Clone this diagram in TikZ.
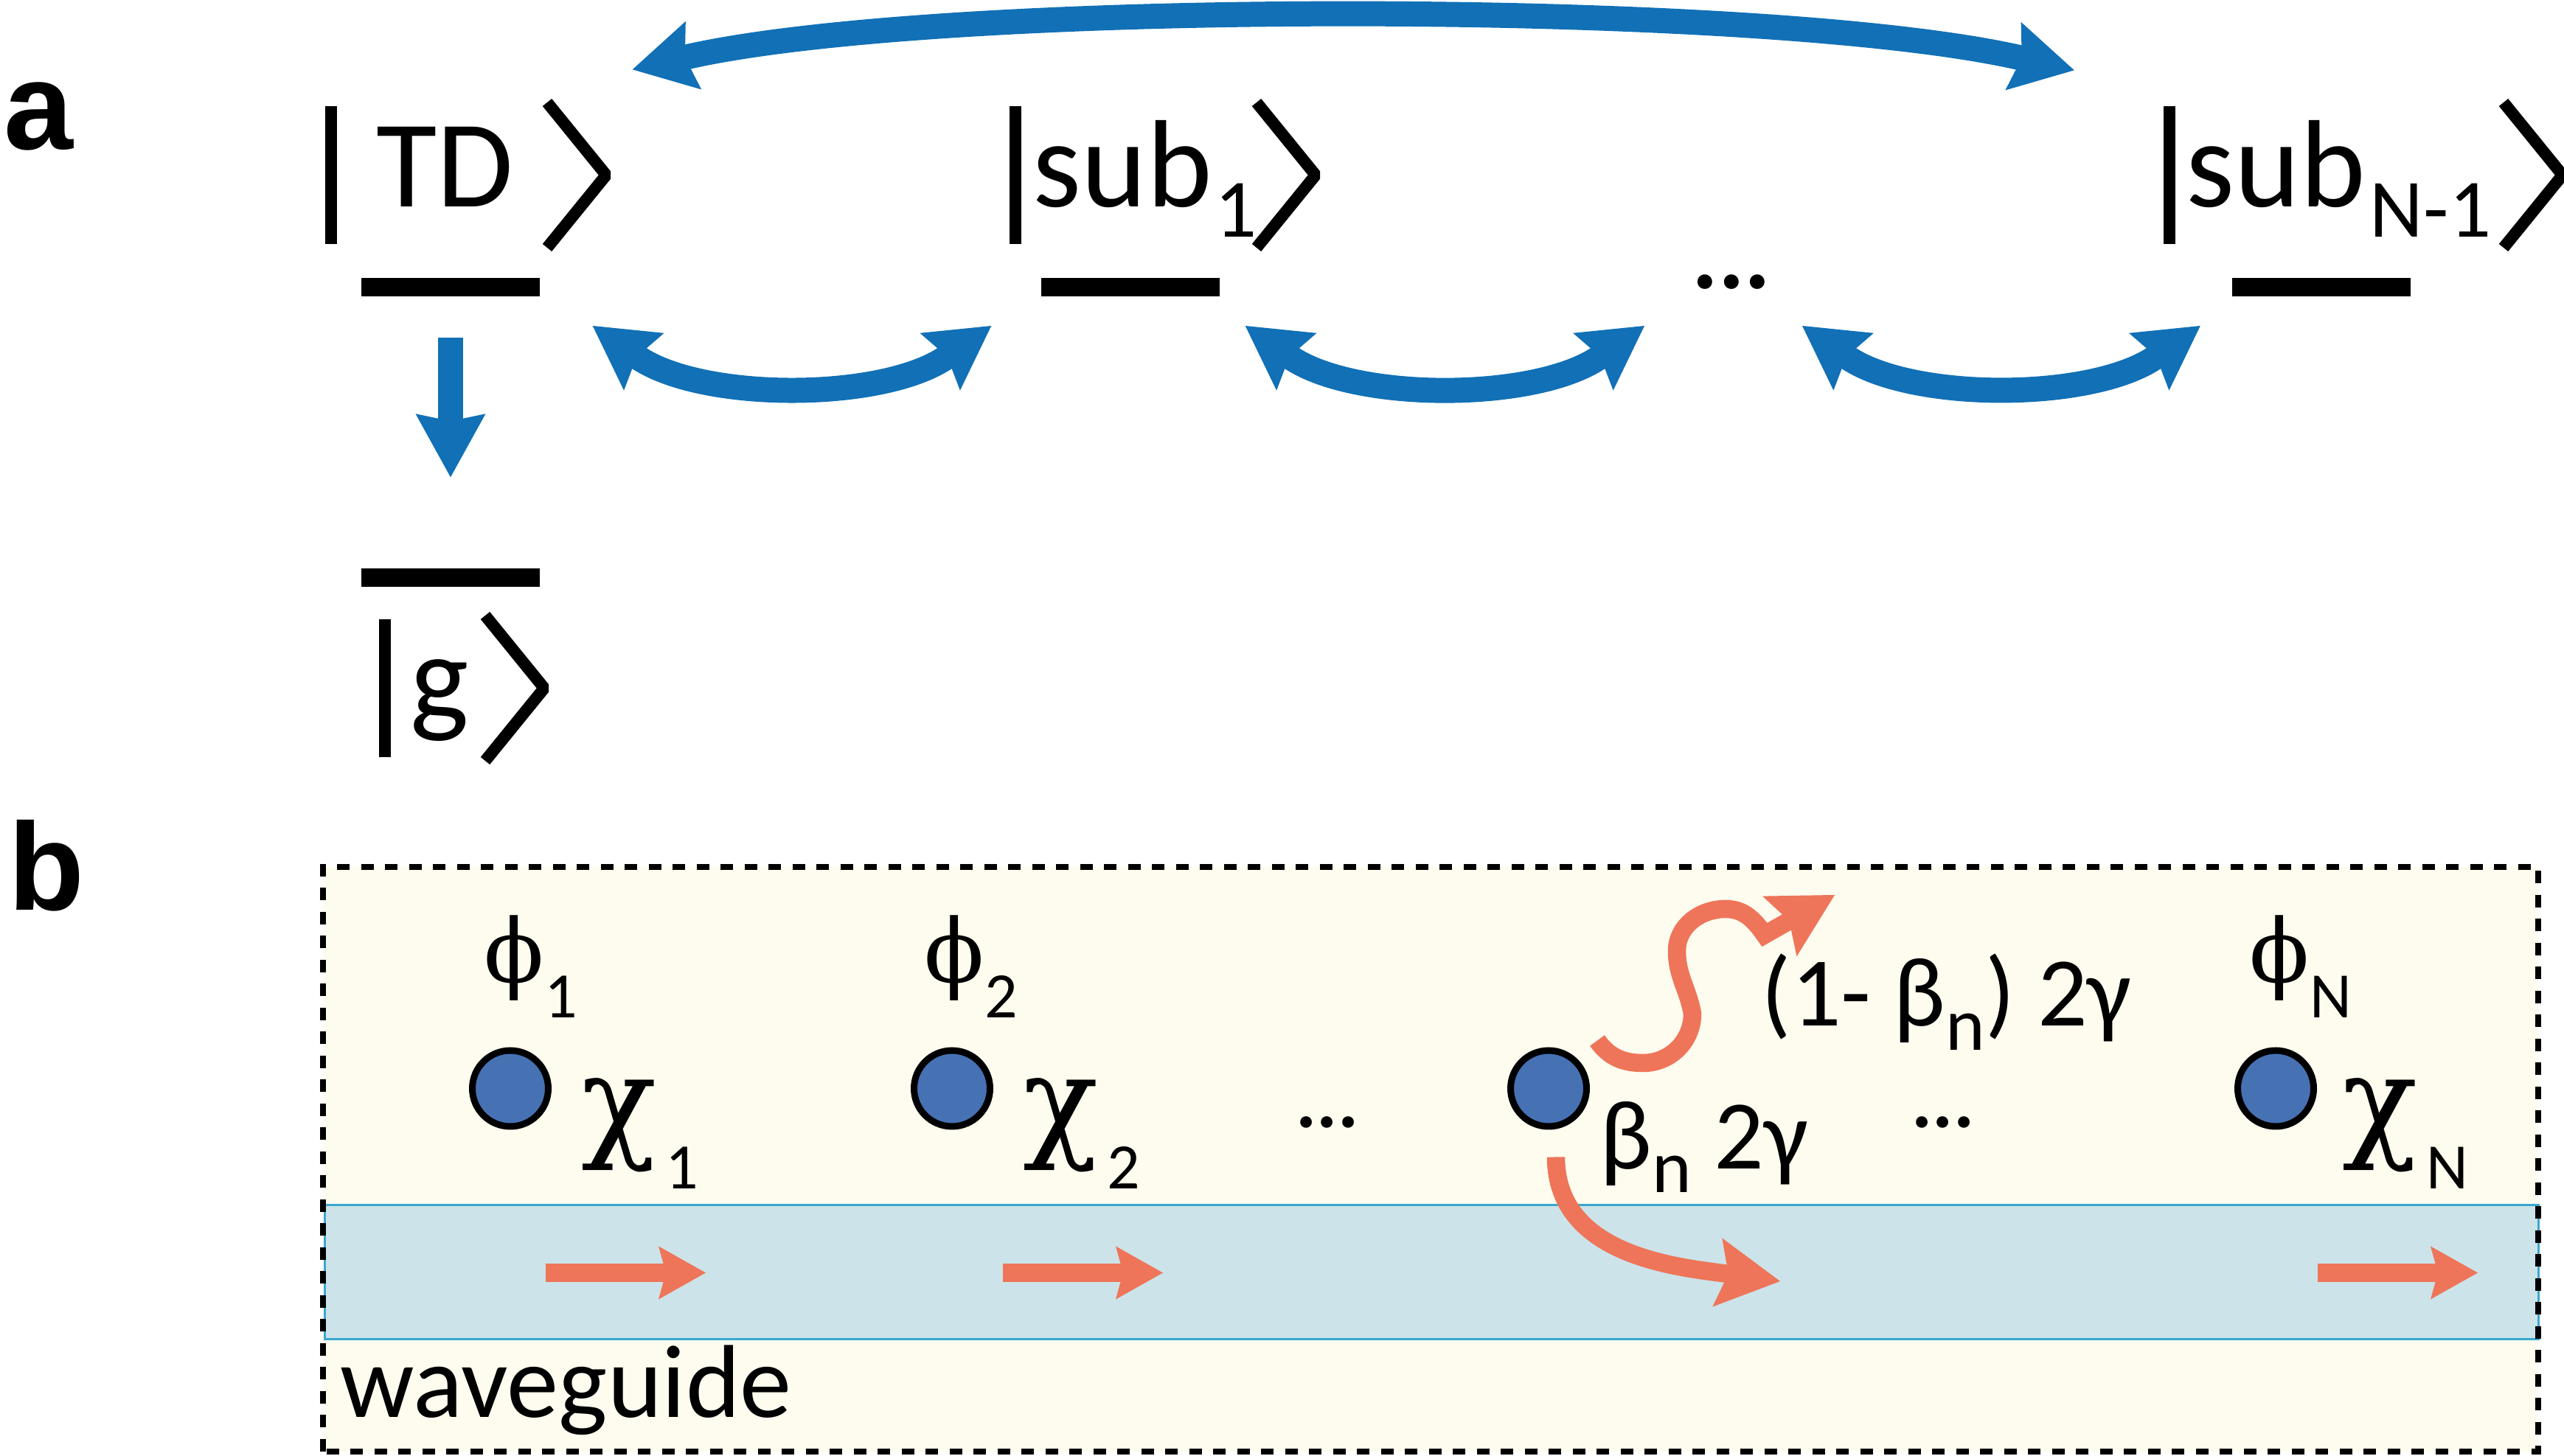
\documentclass[tikz,border=0pt]{standalone}
\usepackage{fontspec}
\setmainfont{Carlito}
\newfontfamily\labfont{Liberation Sans}
\newfontfamily\greekserif{DejaVu Serif}
\usetikzlibrary{arrows.meta}
\definecolor{ArrowBlue}{RGB}{17,112,182}
\definecolor{EmitBlue}{RGB}{70,114,180}
\definecolor{PhotonRed}{RGB}{238,117,89}
\definecolor{BoxYellow}{RGB}{254,252,239}
\definecolor{GuideBlue}{RGB}{204,227,233}
\definecolor{GuideLine}{RGB}{58,168,208}
\newcommand{\ketsub}{\fontsize{32}{32}\selectfont}
\newcommand{\labsub}{\fontsize{25}{25}\selectfont}
\newcommand{\ratesub}{\fontsize{29}{29}\selectfont}
\newcommand{\ketmarks}[4]{\draw[ketline] (#1,#3-#4) -- (#1,#3+#4); \draw[ketline,line join=bevel] (#2,#3+#4+0.05) -- (#2+0.8,#3) -- (#2,#3-#4-0.05);}

\begin{document}
\begin{tikzpicture}[
  panel/.style={font=\labfont\bfseries\fontsize{48}{48}\selectfont,inner sep=0pt,anchor=base west},
  ket/.style={font=\fontsize{48}{48}\selectfont,inner sep=0pt,anchor=base west},
  lvline/.style={fill=black,minimum width=2.42cm,minimum height=0.25cm,inner sep=0pt},
  ketline/.style={line width=0.16cm},
  couple/.style={draw=ArrowBlue,line width=0.34cm,{Stealth[length=0.85cm,width=0.95cm,inset=0.12cm,line width=0pt]}-{Stealth[length=0.85cm,width=0.95cm,inset=0.12cm,line width=0pt]}},
  decay/.style={draw=ArrowBlue,line width=0.34cm,-{Stealth[length=0.86cm,width=0.95cm,inset=0.1cm,line width=0pt]}},
  emitter/.style={circle,draw=black,line width=0.09cm,fill=EmitBlue,minimum size=1.03cm,inner sep=0pt},
  photon/.style={draw=PhotonRed,line width=0.245cm,-{Stealth[length=0.64cm,width=0.72cm,inset=0.1cm,line width=0pt]}},
  emission/.style={draw=PhotonRed,line width=0.245cm,-{Stealth[length=0.86cm,width=0.94cm,inset=0.15cm,line width=0pt]}},
  phase/.style={font=\greekserif\fontsize{34}{34}\selectfont,inner sep=0pt,anchor=base west},
  coupling/.style={font=\greekserif\fontsize{48}{48}\selectfont,inner sep=0pt,anchor=base west},
  rate/.style={font=\fontsize{38}{38}\selectfont,inner sep=0pt,anchor=base west},
  guide/.style={font=\fontsize{40}{40}\selectfont,inner sep=0pt,anchor=base west}]
\useasboundingbox (0,0) rectangle (34.77,19.75);
\node[panel] (la) at (0.05,17.72) {a};
\node[panel] (lb) at (0.11,7.40) {b};
% (a) level scheme
\node[lvline] (lvTD) at (6.11,15.855) {};
\node[lvline] (lvS1) at (15.33,15.855) {};
\node[lvline] (lvSN) at (31.475,15.855) {};
\node[lvline] (lvG) at (6.11,11.915) {};
\node[ket] (td) at (5.10,16.94) {TD};
\node[ket] (s1) at (14.00,16.94) {sub\hspace{0.04cm}\raisebox{-0.41cm}{\ketsub 1}};
\node[ket] (sN) at (29.64,16.94) {sub\hspace{0.06cm}\raisebox{-0.41cm}{\ketsub N-1}};
\node[ket] (g) at (5.56,9.98) {g};
\foreach \xb/\xa/\ym in {4.485/7.42/17.375,13.77/17.04/17.375,29.42/33.95/17.375,5.22/6.58/10.415}{\ketmarks{\xb}{\xa}{\ym}{0.935}}
\node[font=\bfseries\fontsize{38}{38}\selectfont,inner sep=0pt] (dotsA) at (23.48,15.92) {...};
\draw[couple] ([shift={(0.71,-0.525)}]lvTD.east) to[out=-35,in=-145,looseness=0.85] ([shift={(-0.67,-0.525)}]lvS1.west);
\draw[couple] ([shift={(0.34,-0.525)}]lvS1.east) to[out=-35,in=-145,looseness=0.85] ([shift={(-1.18,-0.59)}]dotsA.center);
\draw[couple] ([shift={(0.96,-0.59)}]dotsA.center) to[out=-35,in=-145,looseness=0.85] ([shift={(-0.42,-0.525)}]lvSN.west);
\draw[couple] ([shift={(1.25,2.82)}]lvTD.north east) to[out=13,in=167,looseness=0.56] ([shift={(-2.13,2.81)}]lvSN.north west);
\draw[decay] ([yshift=-0.55cm]lvTD.south) -- ([yshift=1.23cm]lvG.north);
% (b) emitters along the waveguide
\fill[BoxYellow] (4.38,0.06) rectangle (34.42,7.99);
\draw[draw=GuideLine,fill=GuideBlue,line width=0.03cm] (4.40,1.58) rectangle (34.42,3.40);
\draw[black,line width=0.077cm,dash pattern=on 0.17cm off 0.155cm] (4.38,0.06) rectangle (34.42,7.99);
\node[guide] (wg) at (4.61,0.52) {waveguide};
\foreach \n/\x in {1/6.92,2/12.91,3/21.00,4/30.86}{\node[emitter] (em\n) at (\x,4.985) {};}
\foreach \n/\x in {1/6.56,2/12.53,N/30.50}{\node[phase] (ph\n) at (\x,6.42) {ϕ\raisebox{-0.48cm}{\normalfont\labsub \n}};}
\foreach \n/\x in {1/7.88,2/13.87,N/31.76}{\node[coupling] (ch\n) at (\x,4.22) {χ\hspace{0.12cm}\raisebox{-0.6cm}{\normalfont\labsub \n}};}
\node[font=\bfseries\fontsize{30}{30}\selectfont,inner sep=0pt] (dotsB1) at (18.00,4.53) {...};
\node[font=\bfseries\fontsize{30}{30}\selectfont,inner sep=0pt] (dotsB2) at (26.35,4.53) {...};
\node[rate] (beta) at (21.69,3.89) {β\raisebox{-0.32cm}{\ratesub n} 2γ};
\node[rate] (loss) at (23.88,5.83) {(1- β\raisebox{-0.33cm}{\ratesub n}) 2γ};
\foreach \x in {7.40,13.60,31.43}{\draw[photon] (\x,2.485) -- ++(2.17,0);}
\coordinate (guideTip) at (24.14,2.37);
\coordinate (freeTip) at (24.88,7.61);
\draw[emission] ([shift={(0.10,-0.93)}]em3.center) to[out=-90,in=172] (guideTip);
\draw[emission] ([shift={(0.66,0.65)}]em3.center) to[out=-55,in=180] (22.28,5.33) to[out=0,in=-90] (22.95,6.00) to[out=100,in=-90] (22.74,6.85) to[out=90,in=180] (23.40,7.42) to[out=0,in=125] (23.93,7.07) -- (freeTip);
\end{tikzpicture}
\end{document}
